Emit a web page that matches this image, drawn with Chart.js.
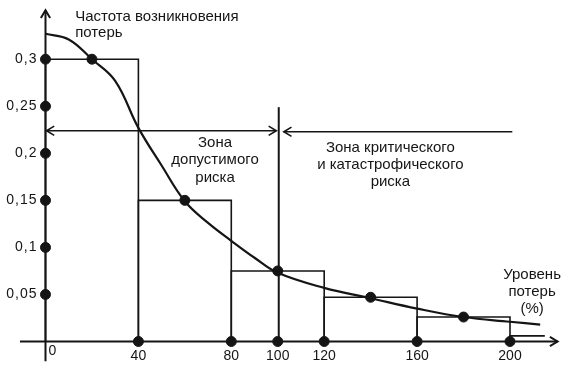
<!DOCTYPE html>
<html lang="ru">
<head>
<meta charset="UTF-8">
<title>Частота возникновения потерь</title>
<script src="https://cdn.jsdelivr.net/npm/chart.js@4.4.1/dist/chart.umd.min.js"></script>
<style>
  body { margin: 0; background: #fff; }
</style>
</head>
<body>
<canvas id="myChart" width="570" height="368"></canvas>
<script>
  // ticks
  const xTicks = [0, 40, 80, 100, 120, 160, 200];
  const yTicks = [0.05, 0.1, 0.15, 0.2, 0.25, 0.3];
  const yTickLabels = ['0,05', '0,1', '0,15', '0,2', '0,25', '0,3'];

  // histogram (bin edges and frequency of each bin)
  const binEdges = [0, 40, 80, 120, 160, 200, 215];
  const binFreq = [0.3, 0.15, 0.075, 0.047, 0.026, 0.006];

  // smooth frequency curve
  const curveX = [0, 10, 20, 30, 40, 50, 60, 70, 80, 90, 100, 120, 140, 160, 180, 200, 213];
  const curveY = [0.327, 0.321, 0.300, 0.277, 0.227, 0.187, 0.149, 0.126, 0.107, 0.089, 0.073, 0.057, 0.046, 0.035, 0.026, 0.021, 0.018];

  // marked points on the curve (middles of bins)
  const markX = [20, 60, 100, 140, 180];
  const markY = [0.3, 0.15, 0.075, 0.047, 0.026];

  // zones
  const zoneBorder = 100;
  const zoneTop = 0.249;
  const arrowLevel = 0.224;
  const arrowRightEnd = 201;

  const ink = '#151515';
  const font = '"Liberation Sans", Arial, sans-serif';

  const histSets = binFreq.map((h, i) => {
    const x0 = binEdges[i], x1 = binEdges[i + 1];
    const pts = [{x: x0, y: 0}, {x: x0, y: h}, {x: x1, y: h}];
    if (i < binFreq.length - 1) pts.push({x: x1, y: 0});
    return {
      type: 'line', data: pts, borderColor: ink, borderWidth: 1.6,
      pointRadius: 0, fill: false, tension: 0
    };
  });

  const arrowHead = (ctx, x, y, dir, size) => {
    // dir: angle the arrow points to
    ctx.beginPath();
    ctx.moveTo(x + size * Math.cos(dir + 2.6), y + size * Math.sin(dir + 2.6));
    ctx.lineTo(x, y);
    ctx.lineTo(x + size * Math.cos(dir - 2.6), y + size * Math.sin(dir - 2.6));
    ctx.stroke();
  };

  const overlay = {
    id: 'overlay',
    beforeDatasetsDraw(chart) {
      const ctx = chart.ctx;
      const sx = chart.scales.x, sy = chart.scales.y;
      const x0 = sx.getPixelForValue(0), y0 = sy.getPixelForValue(0);
      ctx.save();
      ctx.strokeStyle = ink;
      ctx.lineWidth = 2;
      // axes
      ctx.beginPath();
      ctx.moveTo(x0, sy.getPixelForValue(-0.021));
      ctx.lineTo(x0, sy.getPixelForValue(0.352));
      ctx.moveTo(sx.getPixelForValue(-11), y0);
      ctx.lineTo(sx.getPixelForValue(220.5), y0);
      ctx.stroke();
      arrowHead(ctx, x0, sy.getPixelForValue(0.352), -Math.PI / 2, 9);
      arrowHead(ctx, sx.getPixelForValue(220.5), y0, 0, 9);

      // zone border and arrows
      const xb = sx.getPixelForValue(zoneBorder);
      const ya = sy.getPixelForValue(arrowLevel);
      ctx.beginPath();
      ctx.moveTo(xb + 1, y0);
      ctx.lineTo(xb + 1, sy.getPixelForValue(zoneTop));
      ctx.stroke();
      ctx.lineWidth = 1.6;
      const leftTip = sx.getPixelForValue(zoneBorder - 0.6);
      const rightTip = sx.getPixelForValue(zoneBorder + 2.6);
      ctx.beginPath();
      ctx.moveTo(x0 + 1, ya);
      ctx.lineTo(leftTip, ya);
      ctx.moveTo(rightTip, ya + 1);
      ctx.lineTo(sx.getPixelForValue(arrowRightEnd), ya + 1);
      ctx.stroke();
      arrowHead(ctx, x0 + 1, ya, Math.PI, 9);
      arrowHead(ctx, leftTip, ya, 0, 9);
      arrowHead(ctx, rightTip, ya + 1, Math.PI, 9);
      ctx.restore();
    },
    afterDraw(chart) {
      const ctx = chart.ctx;
      const sx = chart.scales.x, sy = chart.scales.y;
      const x0 = sx.getPixelForValue(0), y0 = sy.getPixelForValue(0);
      ctx.save();
      ctx.fillStyle = ink;
      ctx.textBaseline = 'middle';

      // tick labels
      ctx.font = '14px ' + font;
      ctx.letterSpacing = '1px';
      ctx.textAlign = 'right';
      yTicks.forEach((v, i) => ctx.fillText(yTickLabels[i], x0 - 8, sy.getPixelForValue(v)));
      ctx.letterSpacing = '0px';
      ctx.textAlign = 'center';
      xTicks.forEach(v => {
        if (v === 0) ctx.fillText('0', x0 + 7, y0 + 10);
        else ctx.fillText(String(v), sx.getPixelForValue(v), y0 + 15);
      });

      // captions
      ctx.font = '15px ' + font;
      const block = (lines, x, y, lh, align) => {
        ctx.textAlign = align;
        lines.forEach((t, i) => ctx.fillText(t, sx.getPixelForValue(x), sy.getPixelForValue(y) + i * lh));
      };
      block(['Частота возникновения', 'потерь'], 12.8, 0.345, 16, 'left');
      block(['Зона', 'допустимого', 'риска'], 73, 0.2115, 17.5, 'center');
      block(['Зона критического', 'и катастрофического', 'риска'], 148.5, 0.2056, 17, 'center');
      block(['Уровень', 'потерь', '(%)'], 209.5, 0.0707, 17, 'center');
      ctx.restore();
    }
  };

  const ctx = document.getElementById('myChart').getContext('2d');
  const myChart = new Chart(ctx, {
    type: 'scatter',
    data: {
      datasets: [
        ...histSets,
        {
          type: 'line',
          data: curveX.map((x, i) => ({x: x, y: curveY[i]})),
          borderColor: ink, borderWidth: 2.2, pointRadius: 0,
          tension: 0.4, fill: false
        },
        {
          data: markX.map((x, i) => ({x: x, y: markY[i]})),
          backgroundColor: ink, borderColor: ink, pointRadius: 5
        },
        {
          data: [
            ...yTicks.map(v => ({x: 0, y: v})),
            ...xTicks.filter(v => v > 0).map(v => ({x: v, y: 0}))
          ],
          backgroundColor: ink, borderColor: ink, pointRadius: 5
        }
      ]
    },
    options: {
      responsive: false,
      devicePixelRatio: 1,
      animation: false,
      layout: { padding: 0, autoPadding: false },
      plugins: { legend: { display: false }, tooltip: { enabled: false } },
      scales: {
        x: { type: 'linear', display: false, min: -19.59, max: 225.84 },
        y: { type: 'linear', display: false, min: -0.02816, max: 0.36291 }
      }
    },
    plugins: [overlay]
  });
</script>
</body>
</html>
